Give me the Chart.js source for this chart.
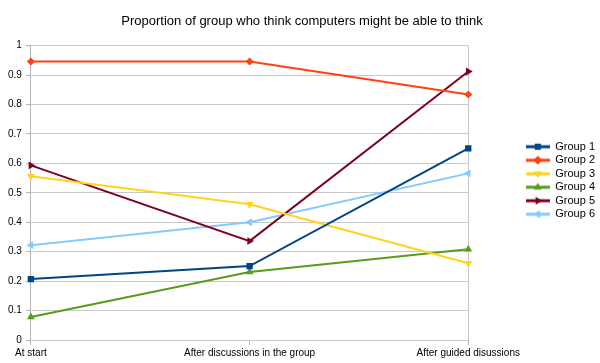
<!DOCTYPE html>
<html>
<head>
<meta charset="utf-8">
<script src="https://cdn.jsdelivr.net/npm/chart.js@4"></script>
<style>
	body {margin: 0; background: #fff;}
	#wrap {width: 600px; height: 363px;}
</style>
</head>
<body>
<div id="wrap"><canvas id="chart"></canvas></div>
<script>
const stages = ['At start', 'After discussions in the group', 'After guided disussions']
const groups = ['Group 1', 'Group 2', 'Group 3', 'Group 4', 'Group 5', 'Group 6']
const group1 = [0.207, 0.251, 0.651]
const group2 = [0.946, 0.946, 0.834]
const group3 = [0.556, 0.461, 0.261]
const group4 = [0.078, 0.231, 0.308]
const group5 = [0.593, 0.336, 0.912]
const group6 = [0.322, 0.400, 0.566]
const values = [group1, group2, group3, group4, group5, group6]

const colors = ['#004586', '#ff420e', '#ffd320', '#579d1c', '#7e0021', '#83caff']
const markers = [
	{style: 'rect', rotation: 0, radius: 4.5},
	{style: 'rectRot', rotation: 0, radius: 4},
	{style: 'triangle', rotation: 180, radius: 4.5},
	{style: 'triangle', rotation: 0, radius: 4.5},
	{style: 'triangle', rotation: 90, radius: 4.5},
	{style: 'triangle', rotation: -90, radius: 4.5},
]

// legend icon: short line with the series marker in the middle
function legendIcon(index) {
	const c = document.createElement('canvas')
	c.width = 24
	c.height = 10
	const ctx = c.getContext('2d')
	ctx.strokeStyle = colors[index]
	ctx.lineWidth = 3
	ctx.beginPath()
	ctx.moveTo(0, 5)
	ctx.lineTo(24, 5)
	ctx.stroke()
	ctx.fillStyle = colors[index]
	Chart.helpers.drawPoint(ctx, {
		pointStyle: markers[index].style,
		rotation: markers[index].rotation,
		radius: 4.3,
		borderWidth: 0,
	}, 12, 5)
	ctx.fill()
	return c
}

const datasets = groups.map((label, i) => ({
	label,
	data: values[i],
	borderColor: colors[i],
	backgroundColor: colors[i],
	borderWidth: 2,
	pointStyle: markers[i].style,
	pointRotation: markers[i].rotation,
	pointRadius: markers[i].radius,
	pointHoverRadius: markers[i].radius,
	pointBorderWidth: 0,
	tension: 0,
}))

const gridColor = '#c8c8c8'

// leave a gap between the plot and the legend, like the original
const legendGap = {
	id: 'legendGap',
	beforeInit(chart) {
		const legend = chart.legend
		const fit = legend.fit
		legend.fit = function () {
			fit.call(this)
			this.width += 50
		}
	},
	afterLayout(chart) {
		chart.legend.left += 55
	},
}

new Chart(document.getElementById('chart'), {
	type: 'line',
	data: {labels: stages, datasets},
	plugins: [legendGap],
	options: {
		responsive: true,
		maintainAspectRatio: false,
		animation: false,
		layout: {padding: {left: 4, right: 0, top: 0, bottom: 2}},
		scales: {
			x: {
				offset: false,
				grid: {
					color: (ctx) => ctx.index === 2 ? gridColor : 'rgba(0,0,0,0)',
					tickColor: '#b3b3b3',
					tickLength: 5,
				},
				border: {display: false},
				ticks: {
					color: '#000',
					font: {family: 'Liberation Sans', size: 10},
					maxRotation: 0,
					padding: 2,
				},
			},
			y: {
				min: 0,
				max: 1,
				grid: {color: gridColor, tickColor: '#b3b3b3', tickLength: 5},
				border: {color: '#b3b3b3'},
				ticks: {
					stepSize: 0.1,
					color: '#000',
					font: {family: 'Liberation Sans', size: 10},
					padding: 4,
					callback: (v) => String(+v.toFixed(1)),
				},
			},
		},
		plugins: {
			title: {
				display: true,
				text: 'Proportion of group who think computers might be able to think',
				color: '#000',
				font: {family: 'Liberation Sans', size: 13, weight: 'normal'},
				padding: {top: 14, bottom: 16},
			},
			legend: {
				position: 'right',
				labels: {
					usePointStyle: true,
					pointStyleWidth: 24,
					padding: 2.5,
					color: '#000',
					font: {family: 'Liberation Sans', size: 11},
					generateLabels: (chart) => groups.map((g, i) => ({
						text: g,
						pointStyle: legendIcon(i),
						fillStyle: colors[i],
						strokeStyle: colors[i],
						lineWidth: 0,
						datasetIndex: i,
						hidden: false,
					})),
				},
			},
			tooltip: {enabled: false},
		},
	},
})
</script>
</body>
</html>
